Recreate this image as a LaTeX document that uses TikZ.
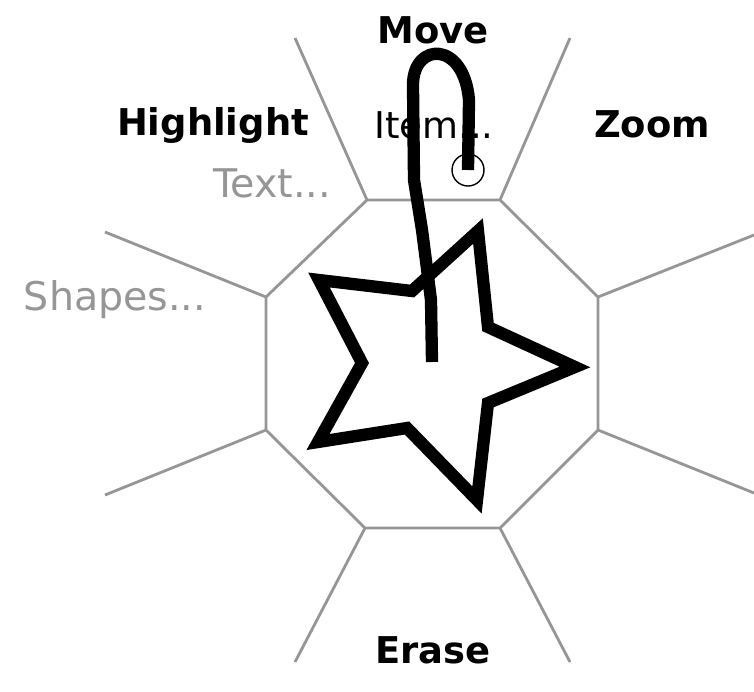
\documentclass[tikz,border=0pt]{standalone}
\usepackage{fontspec}
\setmainfont{DejaVu Sans}
\definecolor{menugray}{RGB}{150,150,150}
\tikzset{
    spoke/.style={menugray, line width=1.6pt},
    cmd/.style={font=\fontsize{21}{24}\selectfont\bfseries},
    item/.style={font=\fontsize{21}{24}\selectfont},
    subcmd/.style={font=\fontsize{22.5}{26}\selectfont, text=menugray},
    ink/.style={line width=7pt}
}
\begin{document}
\begin{tikzpicture}[x=0.02cm, y=-0.02cm]
    \useasboundingbox (0,0) rectangle (754,691);

    % Octagon corners and spoke ends
    \foreach \n/\cx/\cy/\ox/\oy in {
        1/367/200/295/38,
        2/500/200/570/38,
        3/598/297/754/235,
        4/598/430/754/493,
        5/500/528/570/662,
        6/365/528/295/662,
        7/266/430/105/495,
        8/266/297/105/232
    }{
        \coordinate (c\n) at (\cx,\cy);
        \coordinate (o\n) at (\ox,\oy);
    }

    % Pie menu
    \draw[spoke] (c1) -- (c2) -- (c3) -- (c4) -- (c5) -- (c6) -- (c7) -- (c8) -- cycle;
    \foreach \n in {1,...,8}{
        \draw[spoke] (c\n) -- (o\n);
    }

    % Labels
    \node[cmd] (move) at (433,30) {Move};
    \node[item] (moveitem) at (434,125) {Item...};
    \node[cmd] (highlight) at (213,125) {Highlight};
    \node[subcmd] (hltext) at (272,183) {Text...};
    \node[subcmd] (shapes) at (115,300) {Shapes...};
    \node[cmd] (zoom) at (652,124) {Zoom};
    \node[cmd] (erase) at (433,650) {Erase};

    % Star
    \draw[ink, line join=miter]
    (478,231) -- (488,327) -- (575,367) -- (488,403)
    -- (477,500) -- (407,428) -- (318,442) -- (362,363)
    -- (319,280) -- (412,291) -- cycle;

    % Gesture stroke
    \coordinate (tip) at (468,170);
    \draw[ink, line cap=butt, line join=round]
    (432,362) -- (431,300) -- (422,230) -- (414,180) -- (413,85)
    .. controls (413,42) and (464,40) .. (469,100) -- (tip);

    % Cursor
    \draw[line width=0.8pt] (tip) circle (16);
\end{tikzpicture}
\end{document}
